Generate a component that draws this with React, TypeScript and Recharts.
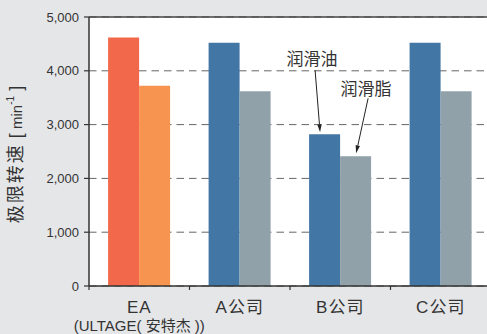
import React from "react";
import {
  BarChart,
  Bar,
  Cell,
  XAxis,
  YAxis,
  CartesianGrid,
  ReferenceLine,
  LabelList,
} from "recharts";

// data
const categories = ["EA", "A公司", "B公司", "C公司"];
const subLabels = ["(ULTAGE( 安特杰 ))", "", "", ""];
const oilSpeed = [4620, 4520, 2820, 4520];
const greaseSpeed = [3720, 3620, 2410, 3620];
const yTicks = [0, 1000, 2000, 3000, 4000, 5000];
const oilName = "润滑油";
const greaseName = "润滑脂";
const ownBrand = "EA";
const calloutCategory = "B公司";

const data = categories.map((name, i) => ({
  name,
  sub: subLabels[i],
  oil: oilSpeed[i],
  grease: greaseSpeed[i],
}));

const CHART_W = 491;
const CHART_H = 334;
const Y_AXIS_W = 89;
const X_AXIS_H = 48;
const MARGIN = { top: 17, right: 0, left: 0, bottom: 0 };
const PLOT_W = CHART_W - Y_AXIS_W - MARGIN.left - MARGIN.right;
const PLOT_H = CHART_H - X_AXIS_H - MARGIN.top - MARGIN.bottom;
const BAND_W = PLOT_W / categories.length;

const FONT = "'Liberation Sans', 'Noto Sans CJK SC', sans-serif";
const TEXT = "#333";
const BG = "#e5e6e8";

function Arrow({ x1, y1, x2, y2 }: { x1: number; y1: number; x2: number; y2: number }) {
  const dx = x2 - x1;
  const dy = y2 - y1;
  const len = Math.hypot(dx, dy);
  const ux = dx / len;
  const uy = dy / len;
  const hl = 8;
  const hw = 2.2;
  const bx = x2 - ux * hl;
  const by = y2 - uy * hl;
  return (
    <g>
      <line x1={x1} y1={y1} x2={bx} y2={by} stroke="#222" strokeWidth={1} />
      <polygon
        points={`${x2},${y2} ${bx - uy * hw},${by + ux * hw} ${bx + uy * hw},${by - ux * hw}`}
        fill="#222"
      />
    </g>
  );
}

// callout text + arrow pointing at the bar top of one category
const makeCallout =
  (name: string, off: { tx: number; ty: number; sx: number; sy: number; ex: number; ey: number }) =>
  (props: any) => {
    const { x, y, index } = props;
    if (categories[index] !== calloutCategory) return null;
    const bx = Number(x);
    const by = Number(y);
    return (
      <g>
        <text
          x={bx + off.tx}
          y={by + off.ty}
          textAnchor="middle"
          dominantBaseline="central"
          fontSize={17}
          fontFamily={FONT}
          fill={TEXT}
        >
          {name}
        </text>
        <Arrow x1={bx + off.sx} y1={by + off.sy} x2={bx + off.ex} y2={by + off.ey} />
      </g>
    );
  };

const renderXTick = (props: any) => {
  const { x, y, payload, index } = props;
  const sub = subLabels[index];
  return (
    <g>
      <line x1={x - BAND_W / 2} x2={x - BAND_W / 2} y1={y} y2={y + 4} stroke={TEXT} strokeWidth={1.2} />
      <text x={x} y={y + 27} textAnchor="middle" fontSize={17} fontFamily={FONT} fill={TEXT} letterSpacing={1}>
        {payload.value}
      </text>
      {sub ? (
        <text x={x} y={y + 45} textAnchor="middle" fontSize={15} fontFamily={FONT} fill={TEXT}>
          {sub}
        </text>
      ) : null}
    </g>
  );
};

const renderYLabel = (props: any) => {
  const vb = props.viewBox ?? { x: 0, y: MARGIN.top, width: Y_AXIS_W, height: PLOT_H };
  const cx = vb.x + 16;
  const cy = vb.y + vb.height / 2 + 3;
  return (
    <text
      x={cx}
      y={cy}
      transform={`rotate(-90, ${cx}, ${cy})`}
      textAnchor="middle"
      dominantBaseline="central"
      fontFamily={FONT}
      fill={TEXT}
    >
      <tspan fontSize={18} letterSpacing={2}>极限转速</tspan>
      <tspan fontSize={18}> [</tspan>
      <tspan fontSize={15}> min</tspan>
      <tspan fontSize={10} dy={-6}>-1</tspan>
      <tspan fontSize={18} dy={6}> ]</tspan>
    </text>
  );
};

export default function App() {
  return (
    <div
      style={{
        position: "fixed",
        left: 0,
        top: 0,
        width: 487,
        height: 334,
        background: BG,
        overflow: "hidden",
      }}
    >
      <BarChart
        width={CHART_W}
        height={CHART_H}
        data={data}
        margin={MARGIN}
        barCategoryGap="19%"
        barGap={0}
      >
        <CartesianGrid vertical={false} strokeDasharray="7.5 5" stroke="#666" fill="#fff" />
        <XAxis
          dataKey="name"
          height={X_AXIS_H}
          interval={0}
          tickSize={0}
          tickMargin={0}
          tickLine={false}
          axisLine={{ stroke: TEXT, strokeWidth: 1.5 }}
          tick={renderXTick}
        />
        <YAxis
          width={Y_AXIS_W}
          domain={[0, 5000]}
          ticks={yTicks}
          interval={0}
          tickSize={5}
          tickMargin={5}
          tickFormatter={(v: number) => v.toLocaleString("en-US")}
          tick={{ fontSize: 13, fill: TEXT, fontFamily: FONT }}
          axisLine={{ stroke: TEXT, strokeWidth: 1.5 }}
          tickLine={{ stroke: TEXT, strokeWidth: 1.2 }}
          label={{ content: renderYLabel }}
        />
        <ReferenceLine y={5000} stroke="#444" strokeWidth={1.5} />
        <Bar dataKey="oil" name={oilName} isAnimationActive={false}>
          {data.map((d) => (
            <Cell key={d.name} fill={d.name === ownBrand ? "#f1684a" : "#4277a5"} />
          ))}
          <LabelList
            dataKey="oil"
            content={makeCallout(oilName, { tx: 3, ty: -74.5, sx: 6, sy: -64, ex: 11, ey: -2 })}
          />
        </Bar>
        <Bar dataKey="grease" name={greaseName} isAnimationActive={false}>
          {data.map((d) => (
            <Cell key={d.name} fill={d.name === ownBrand ? "#f7944f" : "#91a1a9"} />
          ))}
          <LabelList
            dataKey="grease"
            content={makeCallout(greaseName, { tx: 26, ty: -66.5, sx: 28, sy: -58, ex: 16, ey: -3 })}
          />
        </Bar>
      </BarChart>
    </div>
  );
}
